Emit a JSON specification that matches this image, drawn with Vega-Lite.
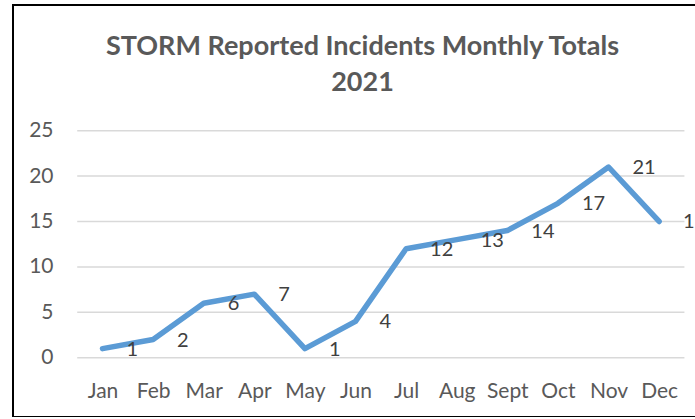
{
  "$schema": "https://vega.github.io/schema/vega-lite/v6.json",
  "autosize": {"type": "none"},
  "padding": {"left": 13, "top": 5, "right": 0, "bottom": 0},
  "width": 699,
  "height": 412,
  "background": "#ffffff",
  "title": {
    "text": ["STORM Reported Incidents Monthly Totals", "2021"],
    "font": "Lato",
    "fontSize": 27,
    "fontWeight": "bold",
    "color": "#595959",
    "lineHeight": 36,
    "anchor": "middle",
    "frame": "group",
    "orient": "top",
    "offset": -92
  },
  "config": {
    "view": {"stroke": "#000000", "strokeWidth": 2, "fill": "#ffffff"},
    "axis": {"labelFont": "Lato", "labelColor": "#595959", "labelFontSize": 21}
  },
  "datasets": {
    "incidents": [
      {"month": "Jan", "m": 1, "incidents": 1},
      {"month": "Feb", "m": 2, "incidents": 2},
      {"month": "Mar", "m": 3, "incidents": 6},
      {"month": "Apr", "m": 4, "incidents": 7},
      {"month": "May", "m": 5, "incidents": 1},
      {"month": "Jun", "m": 6, "incidents": 4},
      {"month": "Jul", "m": 7, "incidents": 12},
      {"month": "Aug", "m": 8, "incidents": 13},
      {"month": "Sept", "m": 9, "incidents": 14},
      {"month": "Oct", "m": 10, "incidents": 17},
      {"month": "Nov", "m": 11, "incidents": 21},
      {"month": "Dec", "m": 12, "incidents": 15}
    ],
    "gridlines": [
      {"level": 0}, {"level": 5}, {"level": 10}, {"level": 15}, {"level": 20}, {"level": 25}
    ]
  },
  "layer": [
    {
      "data": {"name": "gridlines"},
      "mark": {"type": "rule", "color": "#D9D9D9", "strokeWidth": 1.5},
      "encoding": {
        "y": {"field": "level", "type": "quantitative",
              "scale": {"domain": [-6.53, 38.84], "nice": false, "zero": false},
              "axis": {"values": [0, 5, 10, 15, 20, 25], "grid": false, "domain": false, "ticks": false,
                       "labelPadding": 4, "offset": -44, "title": null}},
        "x": {"datum": 0.5, "type": "quantitative",
              "scale": {"domain": [-0.769, 13.045], "nice": false, "zero": false},
              "axis": {"values": [1,2,3,4,5,6,7,8,9,10,11,12], "grid": false, "domain": false, "ticks": false,
                       "labelPadding": 0, "offset": -37, "title": null,
                       "labelExpr": "['Jan','Feb','Mar','Apr','May','Jun','Jul','Aug','Sept','Oct','Nov','Dec'][datum.value - 1]"}},
        "x2": {"datum": 12.5}
      }
    },
    {
      "data": {"name": "incidents"},
      "mark": {"type": "line", "color": "#5B9BD5", "strokeWidth": 5.5, "strokeCap": "round", "strokeJoin": "round"},
      "encoding": {
        "x": {"field": "m", "type": "quantitative"},
        "y": {"field": "incidents", "type": "quantitative"}
      }
    },
    {
      "data": {"name": "incidents"},
      "mark": {"type": "text", "align": "left", "baseline": "middle", "dx": 24, "dy": 1,
               "font": "Lato", "fontSize": 20, "color": "#404040"},
      "encoding": {
        "x": {"field": "m", "type": "quantitative"},
        "y": {"field": "incidents", "type": "quantitative"},
        "text": {"field": "incidents", "type": "quantitative"}
      }
    }
  ]
}
